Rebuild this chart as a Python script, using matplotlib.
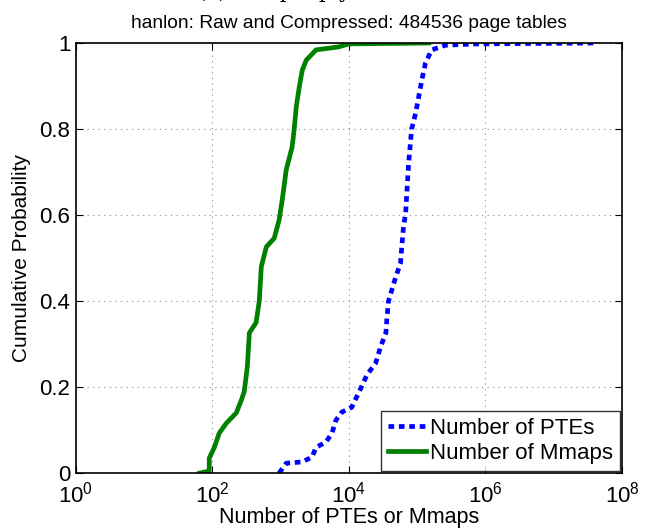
import matplotlib
matplotlib.use("Agg")
import matplotlib.pyplot as plt

# CDF of number of PTEs per page table (blue dashed)
pte_counts = [950, 1206, 2050, 2880, 3300, 4600, 5650, 6450, 7900, 11000, 15000,
              18300, 24700, 29000, 34800, 35900, 38000, 48500, 57000, 59000, 63000,
              67800, 75000, 83000, 95000, 105000, 117000, 132000, 163000, 262000,
              790000, 3.9e7]
pte_prob = [0.0, 0.023, 0.026, 0.037, 0.06, 0.072, 0.093, 0.123, 0.142, 0.153, 0.198,
            0.228, 0.256, 0.293, 0.326, 0.356, 0.40, 0.456, 0.488, 0.519, 0.572,
            0.605, 0.721, 0.80, 0.837, 0.874, 0.914, 0.953, 0.984, 0.995,
            0.998, 1.0]

# CDF of number of mmaps (green solid)
mmap_counts = [65, 90, 90, 107, 126, 160, 224, 266, 293, 325, 348, 437, 486, 521,
               617, 804, 948, 1055, 1206, 1473, 1580, 1692, 1875, 2075, 2370, 3300,
               7100, 10000, 148000]
mmap_prob = [0.0, 0.005, 0.035, 0.06, 0.093, 0.116, 0.14, 0.17, 0.19, 0.247, 0.326,
             0.35, 0.40, 0.48, 0.526, 0.546, 0.588, 0.635, 0.705, 0.758, 0.80,
             0.851, 0.898, 0.937, 0.96, 0.984, 0.991, 0.998, 1.0]

plt.rcParams["font.family"] = ["Liberation Sans", "DejaVu Sans"]
plt.rcParams["mathtext.fontset"] = "custom"
plt.rcParams["mathtext.rm"] = "Liberation Sans"

fig = plt.figure(figsize=(6.54, 5.31), dpi=100)
ax = fig.add_axes([0.116, 0.109, 0.835, 0.81])

ax.plot(pte_counts, pte_prob, color="#0000ff", linestyle=(0, (1.2, 1.0)),
        linewidth=3.4, label="Number of PTEs")
ax.plot(mmap_counts, mmap_prob, color="#008000", linewidth=3.4,
        label="Number of Mmaps")

ax.set_xscale("log")
ax.set_xlim(1, 1e8)
ax.set_ylim(0, 1)
ax.set_xticks([1, 1e2, 1e4, 1e6, 1e8])
ax.set_yticks([0, 0.2, 0.4, 0.6, 0.8, 1])
ax.set_yticklabels(["0", "0.2", "0.4", "0.6", "0.8", "1"])
ax.minorticks_off()
ax.tick_params(labelsize=16, direction="in", length=5, top=True, right=True, pad=4)
ax.tick_params(axis="x", pad=6)
ax.grid(True, linestyle=(0, (1, 4)), color="#888888", linewidth=0.8)

for s in ax.spines.values():
    s.set_linewidth(1.2)

ax.set_xlabel("Number of PTEs or Mmaps", fontsize=15.5, labelpad=0)
ax.set_ylabel("Cumulative Probability", fontsize=15, labelpad=6)
ax.set_title("hanlon: Raw and Compressed: 484536 page tables", fontsize=13.8, pad=11)

# caption of the subfigure above, mostly cut off by the crop
fig.text(0.42, 1.0 + 1.5 / 531, "(a) Sample ply", family="DejaVu Serif", fontsize=15,
         ha="center", va="baseline")

leg = ax.legend(loc="lower right", fontsize=16, frameon=True, fancybox=False,
                handlelength=1.7, handletextpad=0.2, borderpad=0.3,
                labelspacing=0.2, borderaxespad=0.1)
leg.get_frame().set_edgecolor("black")
leg.get_frame().set_linewidth(1.0)

fig.savefig("out.png", dpi=100)
